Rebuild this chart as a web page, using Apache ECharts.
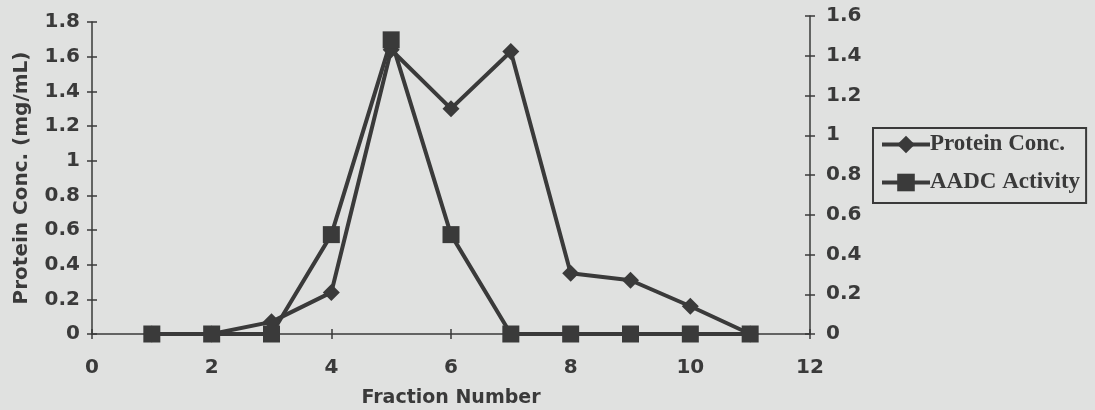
<!DOCTYPE html>
<html>
<head>
<meta charset="utf-8">
<script src="https://cdn.jsdelivr.net/npm/echarts@6/dist/echarts.min.js"></script>
<style>
  html, body { margin: 0; padding: 0; background: #e0e1e0; }
  #chart { width: 1095px; height: 410px; }
</style>
</head>
<body>
<div id="chart"></div>
<script>
  // fractions on x, protein on left axis, AADC activity on right axis
  var fractions = [1, 2, 3, 4, 5, 6, 7, 8, 9, 10, 11];
  var proteinConc = [0, 0, 0.07, 0.24, 1.64, 1.3, 1.63, 0.35, 0.31, 0.16, 0];
  var aadcActivity = [0, 0, 0, 0.5, 1.48, 0.5, 0, 0, 0, 0, 0];

  var ink = '#3a3a3a';
  var sans = 'DejaVu Sans';
  var serif = 'Liberation Serif';

  var myChart = echarts.init(document.getElementById('chart'));

  function pairs(vals) {
    return fractions.map(function (f, i) { return [f, vals[i]]; });
  }

  var tickLabel = { fontFamily: sans, fontWeight: 'bold', fontSize: 20, color: ink };
  var tickLine = { color: ink, width: 1.5 };

  var option = {
    backgroundColor: '#e0e1e0',
    animation: false,
    // left axis and right axis have slightly different tops in the original
    grid: [
      { left: 92, right: 285, top: 22, bottom: 76, outerBoundsMode: 'none' },
      { left: 92, right: 285, top: 16, bottom: 76, outerBoundsMode: 'none' }
    ],
    legend: {
      orient: 'vertical',
      left: 873,
      top: 128,
      padding: [5, 6, 9, 7],
      itemGap: 15,
      itemWidth: 48,
      itemHeight: 22,
      borderColor: ink,
      borderWidth: 2,
      lineStyle: { width: 4 },
      textStyle: { fontFamily: serif, fontWeight: 'bold', fontSize: 23, color: ink, padding: [0, 0, 0, -5] },
      data: ['Protein Conc.', 'AADC Activity']
    },
    xAxis: [{
      gridIndex: 0,
      type: 'value',
      min: 0,
      max: 12,
      interval: 2,
      name: 'Fraction Number',
      nameLocation: 'middle',
      nameGap: 55,
      nameTextStyle: { fontFamily: sans, fontWeight: 'bold', fontSize: 19, color: ink },
      splitLine: { show: false },
      axisLine: { lineStyle: tickLine },
      axisTick: { length: 5, lineStyle: tickLine },
      axisLabel: Object.assign({ margin: 24 }, tickLabel)
    }, {
      gridIndex: 0,
      type: 'value',
      min: 0,
      max: 12,
      interval: 2,
      position: 'bottom',
      splitLine: { show: false },
      axisLine: { show: false },
      axisTick: { inside: true, length: 5, lineStyle: tickLine },
      axisLabel: { show: false }
    }, {
      gridIndex: 1,
      type: 'value',
      min: 0,
      max: 12,
      show: false
    }],
    yAxis: [{
      gridIndex: 0,
      type: 'value',
      min: 0,
      max: 1.8,
      interval: 0.2,
      name: 'Protein Conc. (mg/mL)',
      nameLocation: 'middle',
      nameGap: 60,
      nameTextStyle: { fontFamily: sans, fontWeight: 'bold', fontSize: 20, color: ink },
      splitLine: { show: false },
      axisLine: { show: true, onZero: false, lineStyle: tickLine },
      axisTick: { show: true, length: 5, lineStyle: tickLine },
      axisLabel: Object.assign({ margin: 12 }, tickLabel)
    }, {
      gridIndex: 1,
      type: 'value',
      min: 0,
      max: 1.6,
      interval: 0.2,
      position: 'right',
      splitLine: { show: false },
      axisLine: { show: true, onZero: false, lineStyle: tickLine },
      axisTick: { show: true, length: 5, lineStyle: tickLine },
      axisLabel: Object.assign({ margin: 16 }, tickLabel)
    }, {
      gridIndex: 0,
      type: 'value',
      min: 0,
      max: 1.8,
      interval: 0.2,
      position: 'left',
      splitLine: { show: false },
      axisLine: { show: false, onZero: false },
      axisTick: { show: true, inside: true, length: 5, lineStyle: tickLine },
      axisLabel: { show: false }
    }, {
      gridIndex: 1,
      type: 'value',
      min: 0,
      max: 1.6,
      interval: 0.2,
      position: 'right',
      splitLine: { show: false },
      axisLine: { show: false, onZero: false },
      axisTick: { show: true, inside: true, length: 5, lineStyle: tickLine },
      axisLabel: { show: false }
    }],
    series: [{
      name: 'Protein Conc.',
      type: 'line',
      xAxisIndex: 0,
      yAxisIndex: 0,
      symbol: 'diamond',
      symbolSize: 17,
      lineStyle: { color: ink, width: 4 },
      itemStyle: { color: ink },
      data: pairs(proteinConc)
    }, {
      name: 'AADC Activity',
      type: 'line',
      xAxisIndex: 2,
      yAxisIndex: 1,
      symbol: 'rect',
      symbolSize: 17,
      lineStyle: { color: ink, width: 4 },
      itemStyle: { color: ink },
      data: pairs(aadcActivity)
    }]
  };

  myChart.setOption(option);
</script>
</body>
</html>
